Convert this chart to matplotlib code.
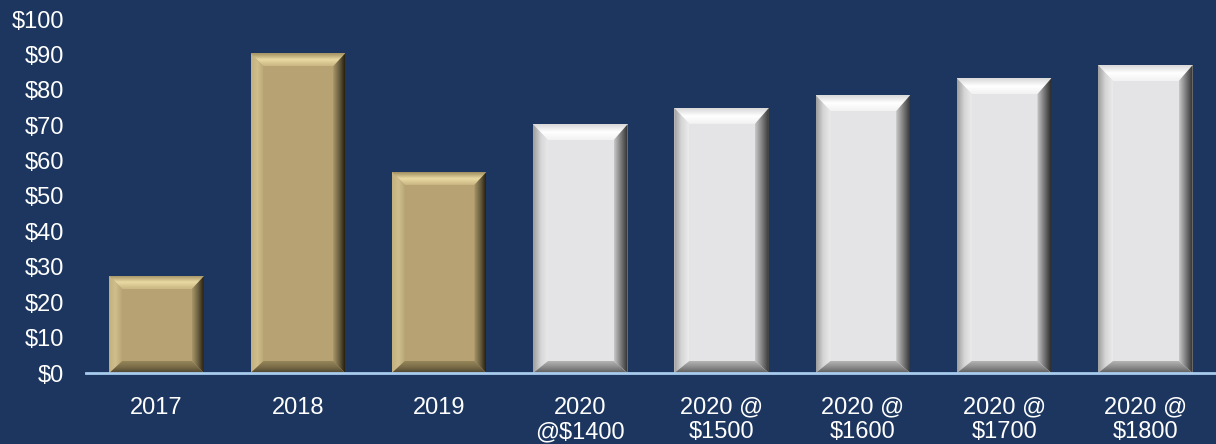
import matplotlib.pyplot as plt
import numpy as np
from matplotlib.patches import Polygon
from matplotlib.colors import to_rgb

plt.rcParams['font.family'] = ['Liberation Sans', 'DejaVu Sans']

labels = ['2017', '2018', '2019', '2020\n@$1400', '2020 @\n$1500',
          '2020 @\n$1600', '2020 @\n$1700', '2020 @\n$1800']
values = [27.4, 90.3, 56.8, 70.3, 74.9, 78.5, 83.3, 87.0]
actual = [True, True, True, False, False, False, False, False]

bg = '#1c365f'
# bevel colour stops run from the outer edge inwards
gold = dict(face='#b6a273', bev=(13, 13, 12, 12),
            top=['#9f8e60', '#e9d9a2', '#c9b682'],
            left=['#c3b080', '#d0bf8d', '#b9a677'],
            right=['#26200f', '#6e6242', '#a8976a'],
            bottom=['#4e4530', '#7a6c48', '#968659'])
silver = dict(face='#e4e4e6', bev=(16, 15, 14, 12),
              top=['#d8d8d8', '#ffffff', '#f2f2f2'],
              left=['#9d9d9d', '#d6d6d6', '#ebebeb'],
              right=['#2e2e2e', '#7a7a7a', '#c8c8c8'],
              bottom=['#5e5e5e', '#8c8c8c', '#b4b4b4'])

fig = plt.figure(figsize=(12.16, 4.44), dpi=100, facecolor=bg)
ax = fig.add_axes([86 / 1216, 71 / 444, 1 - 86 / 1216, 354 / 444])
ax.set_facecolor(bg)

x = np.arange(len(values))
width = 0.67
ax.set_xlim(-0.5, len(values) - 0.5)
ax.set_ylim(0, 100)
px_x = 1130 / len(values)   # pixels per x unit
px_y = 354 / 100            # pixels per y unit


def grad_fill(pts, stops, axis, reverse=False):
    # fill a polygon with a linear gradient through the given colour stops
    poly = Polygon(pts, closed=True, facecolor='none', edgecolor='none')
    ax.add_patch(poly)
    xs = [p[0] for p in pts]
    ys = [p[1] for p in pts]
    n = 64
    t = np.linspace(0, 1, n)
    rgb = np.array([to_rgb(c) for c in stops])
    pos = np.linspace(0, 1, len(stops))
    cols = np.stack([np.interp(t, pos, rgb[:, k]) for k in range(3)], axis=1)
    if reverse:
        cols = cols[::-1]
    img = cols[None, :, :] if axis == 'x' else cols[:, None, :]
    im = ax.imshow(img, extent=(min(xs), max(xs), min(ys), max(ys)),
                   origin='lower', aspect='auto', interpolation='bilinear', zorder=3)
    im.set_clip_path(poly)


bars = ax.bar(x, values, width=width, color='none', edgecolor='none', zorder=2)
for rect, is_act in zip(bars, actual):
    st = gold if is_act else silver
    x0, y0 = rect.get_x(), rect.get_y()
    x1, y1 = x0 + rect.get_width(), y0 + rect.get_height()
    bt, bl, br, bb = st['bev']
    by, bx, bxr, byb = bt / px_y, bl / px_x, br / px_x, bb / px_y
    ax.add_patch(Polygon([(x0, y0), (x1, y0), (x1, y1), (x0, y1)],
                         facecolor=st['face'], edgecolor='none', zorder=2))
    grad_fill([(x0, y1), (x1, y1), (x1 - bxr, y1 - by), (x0 + bx, y1 - by)],
              st['top'], 'y', reverse=True)
    grad_fill([(x0, y0), (x0 + bx, y0 + byb), (x0 + bx, y1 - by), (x0, y1)],
              st['left'], 'x')
    grad_fill([(x1, y0), (x1, y1), (x1 - bxr, y1 - by), (x1 - bxr, y0 + byb)],
              st['right'], 'x', reverse=True)
    grad_fill([(x0, y0), (x1, y0), (x1 - bxr, y0 + byb), (x0 + bx, y0 + byb)],
              st['bottom'], 'y')

ax.axhline(0, color='#a8ccee', lw=2, zorder=4, clip_on=False)
for s in ax.spines.values():
    s.set_visible(False)

ax.set_yticks(np.arange(0, 101, 10))
ax.set_yticklabels([f'${v}' for v in range(0, 101, 10)])
ax.set_xticks(x)
ax.set_xticklabels(labels, linespacing=1.15)
ax.tick_params(axis='both', length=0, colors='white', labelsize=17)
ax.tick_params(axis='x', pad=17)
ax.tick_params(axis='y', pad=16)

fig.savefig('out.png', dpi=100, facecolor=bg)
